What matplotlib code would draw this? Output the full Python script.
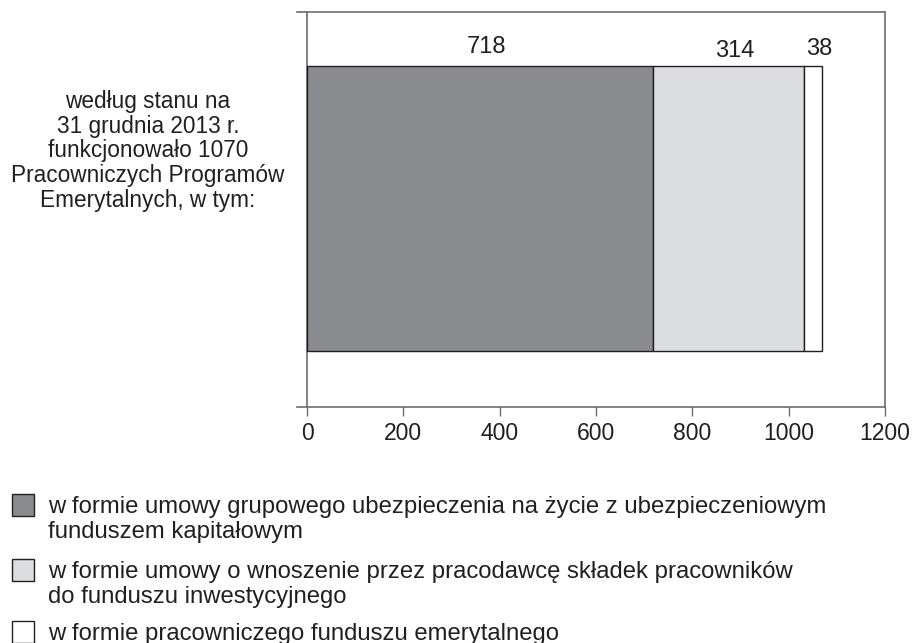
import matplotlib
matplotlib.use("Agg")
import matplotlib.pyplot as plt
from matplotlib.patches import Rectangle

# dane z wykresu
values = [718, 314, 38]
colors = ["#8a8b8e", "#dcdddf", "#ffffff"]
legend_labels = [
    "w formie umowy grupowego ubezpieczenia na życie z ubezpieczeniowym\nfunduszem kapitałowym",
    "w formie umowy o wnoszenie przez pracodawcę składek pracowników\ndo funduszu inwestycyjnego",
    "w formie pracowniczego funduszu emerytalnego",
]
side_text = ("według stanu na\n31 grudnia 2013 r.\nfunkcjonowało 1070\n"
             "Pracowniczych Programów\nEmerytalnych, w tym:")
xticks = [0, 200, 400, 600, 800, 1000, 1200]

TXT = "#231f20"
AXC = "#6d6e71"
plt.rcParams["font.family"] = ["Liberation Sans", "DejaVu Sans"]

W, H = 915, 643
fig = plt.figure(figsize=(W / 100, H / 100), dpi=100)
ax = fig.add_axes([297 / W, 1 - 407 / H, (885 - 297) / W, (407 - 12) / H])

left = 0
for v, c in zip(values, colors):
    ax.barh(0.5025, v, left=left, height=0.7215, color=c,
            edgecolor=TXT, linewidth=1.0, zorder=3)
    left += v

# etykiety nad słupkiem
left = 0
for v, dy in zip(values, [19, 15, 17]):
    ax.annotate(str(v), (left + v / 2, 0.5025 + 0.7215 / 2),
                xytext=(4.5, dy * 0.72), textcoords="offset points",
                ha="center", va="center", fontsize=17, color=TXT)
    left += v

ax.set_xlim(-21, 1200)
ax.set_ylim(0, 1)
ax.spines["left"].set_position(("data", 0))
for s in ax.spines.values():
    s.set_color(AXC)
    s.set_linewidth(1.2)
ax.set_yticks([])
ax.set_xticks(xticks)
ax.tick_params(axis="x", direction="out", length=6.5, width=1.0,
               color=AXC, labelsize=16.5, labelcolor=TXT, pad=4)

fig.text(148 / W, 1 - 151 / H, side_text, ha="center", va="center",
         fontsize=16.3, color=TXT, linespacing=1.09)

# legenda
base = [513, 578, 640]
for lab, c, b in zip(legend_labels, colors, base):
    fig.patches.append(Rectangle((12 / W, 1 - (b + 3) / H), 22 / W, 22 / H,
                                 transform=fig.transFigure, facecolor=c,
                                 edgecolor=TXT, linewidth=1.0))
    for i, line in enumerate(lab.split("\n")):
        fig.text(48 / W, 1 - (b + 25 * i) / H, line, ha="left", va="baseline",
                 fontsize=17.2, color=TXT)

fig.savefig("out.png", dpi=100)
